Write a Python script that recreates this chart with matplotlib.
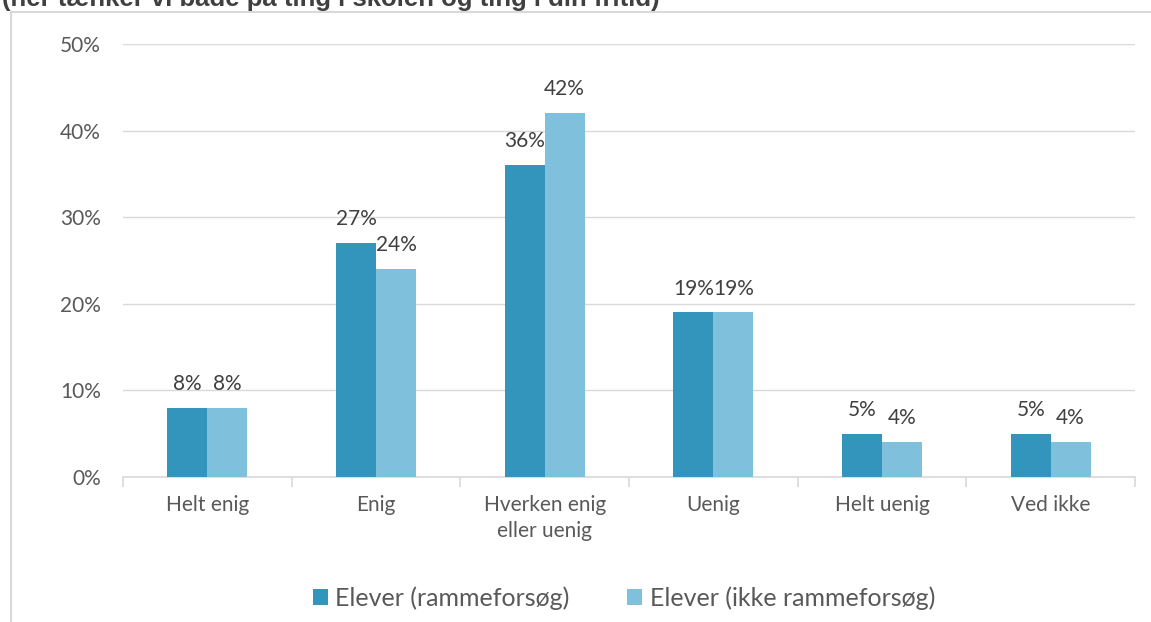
import matplotlib
matplotlib.use("Agg")
import matplotlib.pyplot as plt
from matplotlib.patches import Rectangle
import numpy as np

categories = ["Helt enig", "Enig", "Hverken enig\neller uenig", "Uenig", "Helt uenig", "Ved ikke"]
series_names = ["Elever (rammeforsøg)", "Elever (ikke rammeforsøg)"]
values_ramme = [8, 27, 36, 19, 5, 5]
values_ikke = [8, 24, 42, 19, 4, 4]
yticks = [0, 10, 20, 30, 40, 50]
title = "(her tænker vi både på ting i skolen og ting i din fritid)"

colors = ["#3395BC", "#7FC1DC"]
text_color = "#595959"
plt.rcParams['font.family'] = ['Lato', 'DejaVu Sans']

W, H = 1151, 622
fig = plt.figure(figsize=(W/100, H/100), dpi=100)
ax = fig.add_axes([123/W, 1-477/H, (1135-123)/W, (477-44)/H])

# outer frame
fig.patches.append(Rectangle((11/W, -0.1), 1.2, 1-12/H+0.1, transform=fig.transFigure,
                             fill=False, edgecolor="#D9D9D9", linewidth=1.5))
fig.text(2/W, 1-6/H, title, fontsize=18.5, fontweight='bold', color="#404040",
         family='Liberation Sans', va='baseline', ha='left')

x = np.arange(len(categories))
bw = 40/169
b1 = ax.bar(x - bw/2, values_ramme, bw, color=colors[0], label=series_names[0], zorder=3)
b2 = ax.bar(x + bw/2, values_ikke, bw, color=colors[1], label=series_names[1], zorder=3)
for bars, vals in ((b1, values_ramme), (b2, values_ikke)):
    for r, v in zip(bars, vals):
        ax.annotate(f"{v}%", (r.get_x()+r.get_width()/2, v), xytext=(0, 10),
                    textcoords='offset points', ha='center', va='bottom',
                    fontsize=15, color="#404040")

ax.set_xlim(-0.5, len(categories)-0.5)
ax.set_ylim(0, 50)
ax.set_yticks(yticks)
ax.set_yticklabels([f"{t}%" for t in yticks])
ax.yaxis.grid(True, color="#D9D9D9", linewidth=1, zorder=0)
ax.set_axisbelow(True)
for s in ["top", "right", "left"]:
    ax.spines[s].set_visible(False)
ax.spines["bottom"].set_color("#D9D9D9")
ax.spines["bottom"].set_linewidth(1.2)
ax.tick_params(axis='y', length=0, pad=16, labelsize=15, labelcolor=text_color)
ax.set_xticks(np.arange(-0.5, len(categories)), minor=False)
ax.set_xticklabels([])
ax.set_xticks(x, minor=True)
ax.set_xticklabels(categories, minor=True, linespacing=1.35)
ax.tick_params(axis='x', which='major', length=7, color="#D9D9D9", width=1.2)
ax.tick_params(axis='x', which='minor', length=0, pad=13, labelsize=15, labelcolor=text_color)

leg = fig.legend(loc='center', bbox_to_anchor=(624/W, 1-598/H), ncol=2, frameon=False,
                 fontsize=18, handlelength=0.6, handleheight=0.6, columnspacing=2.3,
                 handletextpad=0.3, labelcolor=text_color)

fig.savefig("out.png", dpi=100)
